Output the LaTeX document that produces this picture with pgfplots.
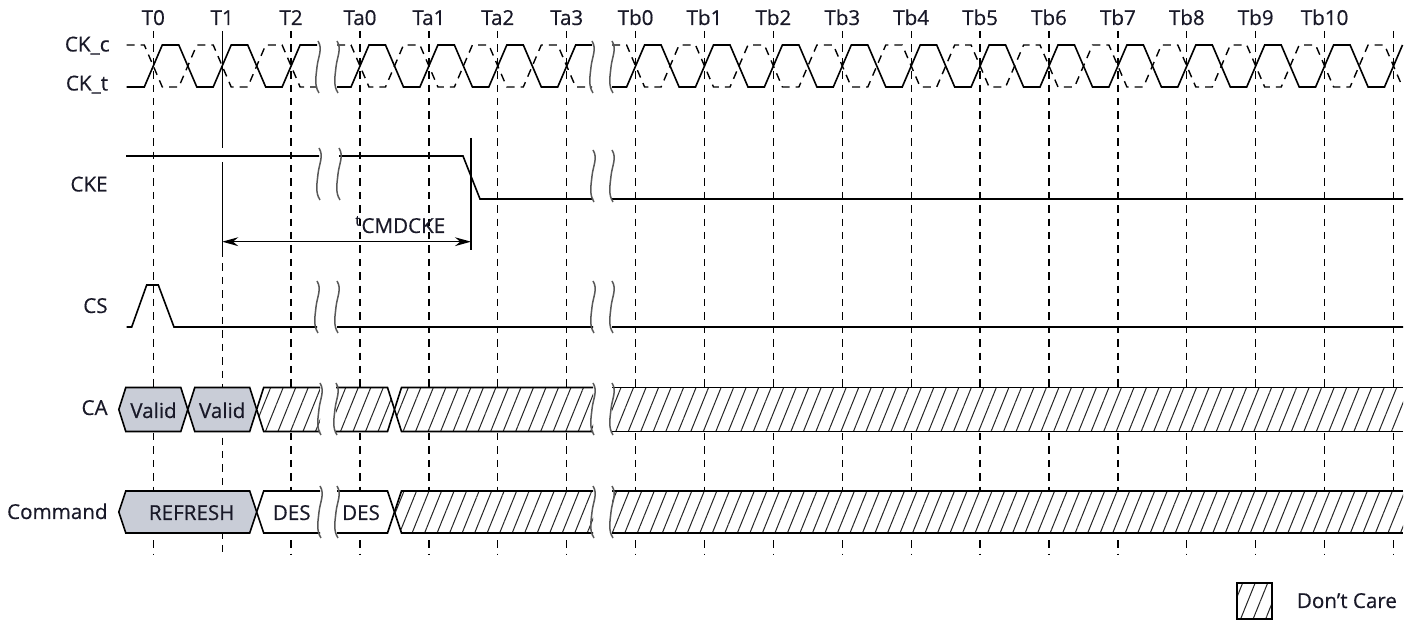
\documentclass[border=0pt]{standalone}
\usepackage{fontspec}
\setmainfont{Open Sans}[FakeBold=0.5, UprightFeatures={FakeBold=0.5}]
\usepackage{pgfplots}
\usepackage{pgfplotstable}
\pgfplotsset{compat=1.18}
\usetikzlibrary{patterns.meta,arrows.meta}
\definecolor{busgray}{RGB}{201,205,215}
\definecolor{txt}{RGB}{25,25,40}

\pgfplotstableread{
x yt yc
126.7 87 45
144.3 87 45
162.3 45 87
178.8 45 87
196.8 87 45
213.2 87 45
231.2 45 87
247.7 45 87
265.7 87 45
282.1 87 45
300.1 45 87
317 45 87
327 nan nan
337 87 45
351 87 45
369 45 87
385.5 45 87
403.5 87 45
419.9 87 45
437.9 45 87
454.4 45 87
472.4 87 45
488.8 87 45
506.8 45 87
523.3 45 87
541.3 87 45
557.7 87 45
575.7 45 87
592 45 87
600 nan nan
612 87 45
626.6 87 45
644.6 45 87
661.1 45 87
679.1 87 45
695.5 87 45
713.5 45 87
730 45 87
748 87 45
764.4 87 45
782.4 45 87
798.9 45 87
816.9 87 45
833.3 87 45
851.3 45 87
867.8 45 87
885.8 87 45
902.2 87 45
920.2 45 87
936.7 45 87
954.7 87 45
971.1 87 45
989.1 45 87
1005.6 45 87
1023.6 87 45
1040 87 45
1058 45 87
1074.5 45 87
1092.5 87 45
1108.9 87 45
1126.9 45 87
1143.4 45 87
1161.4 87 45
1177.8 87 45
1195.8 45 87
1212.3 45 87
1230.3 87 45
1246.7 87 45
1264.7 45 87
1281.2 45 87
1299.2 87 45
1315.6 87 45
1333.6 45 87
1350.1 45 87
1368.1 87 45
1384.5 87 45
1402.5 45 87
}\clocktable

\tikzset{
  sig/.style={line width=0.8pt, black},
  gridl/.style={line width=0.65pt, black, dash pattern=on 3.7pt off 3pt},
  brk/.style={line width=0.75pt, black!65},
  hatch/.style={fill=white, postaction={pattern={Lines[angle=68,distance=5.8pt,line width=0.5pt]}, pattern color=black!85}},
  lbl/.style={font=\fontsize{10.3}{12}\selectfont, text=txt, inner sep=0pt},
}
\newcommand\brkmark[2]{\draw[brk] (axis cs:#1,#2) .. controls +(2.5pt,-4pt) and +(0.5pt,5pt) .. ++(-0.5pt,-13pt) .. controls +(-0.5pt,-5pt) and +(-2.5pt,4pt) .. ++(1pt,-13pt);}
\newcommand\tlab[2]{\node[lbl, anchor=base] at (axis cs:#1,25) {#2};}

\begin{document}
\begin{tikzpicture}
\begin{axis}[x=0.5pt, y=0.5pt, y dir=reverse, xmin=0, xmax=1414, ymin=0, ymax=624,
  hide axis, clip=false, scale only axis, unbounded coords=jump, no marks]
\path (axis cs:0,0) rectangle (axis cs:1414,624);

% vertical dashed time lines
\pgfplotsinvokeforeach{153.3,291.1,360.0,428.9,497.8,566.7,635.6,704.5,773.4,842.3,911.2,980.1,1049.0,1117.9,1186.8,1255.7,1324.6,1393.5}{
  \addplot[gridl] coordinates {(#1,31) (#1,555)};
}
\addplot[gridl] coordinates {(222.2,250) (222.2,555)};
\addplot[sig, line width=0.7pt] coordinates {(222.2,31) (222.2,148)};
\addplot[sig, line width=0.7pt] coordinates {(222.2,162) (222.2,250)};
\addplot[sig, line width=0.7pt] coordinates {(471,138) (471,250)};

% clock
\addplot[sig, dash pattern=on 4pt off 3pt, line width=0.7pt] table[x=x,y=yc] {\clocktable};
\addplot[sig] table[x=x,y=yt] {\clocktable};

% CKE
\addplot[sig] coordinates {(126,156) (319,156) (329,nan) (339,156) (463,156) (480,199) (593,199) (600,nan) (612,199) (1403,199)};
% CS
\addplot[sig] coordinates {(126.7,327) (131.7,327) (146.7,285) (158.3,285) (174,327) (317,327) (327,nan) (337,327) (593,327) (600,nan) (612,327) (1403,327)};

% arrow
\addplot[line width=0.7pt, {Stealth[length=8pt,width=4.4pt]}-{Stealth[length=8pt,width=4.4pt]}] coordinates {(222.2,241.7) (471,241.7)};

% CA bus
\addplot[sig, fill=busgray] coordinates {(118.8,409.5) (125.8,387.5) (180.8,387.5) (187.8,409.5) (180.8,431.5) (125.8,431.5)} -- cycle;
\addplot[sig, fill=busgray] coordinates {(187.8,409.5) (194.8,387.5) (249.7,387.5) (256.7,409.5) (249.7,431.5) (194.8,431.5)} -- cycle;
\addplot[draw=none, hatch] coordinates {(256.7,409.5) (263.7,387.5) (320,387.5) (320,431.5) (263.7,431.5)} -- cycle;
\addplot[sig] coordinates {(320,387.5) (263.7,387.5) (256.7,409.5) (263.7,431.5) (320,431.5)};
\addplot[draw=none, hatch] coordinates {(336,387.5) (387.5,387.5) (394.5,409.5) (387.5,431.5) (336,431.5)} -- cycle;
\addplot[sig] coordinates {(336,387.5) (387.5,387.5) (394.5,409.5) (387.5,431.5) (336,431.5)};
\addplot[draw=none, hatch] coordinates {(394.5,409.5) (401.5,387.5) (593,387.5) (593,431.5) (401.5,431.5)} -- cycle;
\addplot[sig] coordinates {(593,387.5) (401.5,387.5) (394.5,409.5) (401.5,431.5) (593,431.5)};
\addplot[draw=none, hatch] coordinates {(612,387.5) (1403,387.5) (1403,431.5) (612,431.5)} -- cycle;
\addplot[sig] coordinates {(612,387.5) (1403,387.5)};
\addplot[sig] coordinates {(612,431.5) (1403,431.5)};

% Command bus
\addplot[sig, fill=busgray] coordinates {(118.8,512) (125.8,491) (249.7,491) (256.7,512) (249.7,533) (125.8,533)} -- cycle;
\addplot[sig, fill=white] coordinates {(320,491) (263.7,491) (256.7,512) (263.7,533) (320,533)};
\addplot[sig, fill=white] coordinates {(337,491) (387.5,491) (394.5,512) (387.5,533) (337,533)};
\addplot[draw=none, hatch] coordinates {(394.5,512) (401.5,491) (593,491) (593,533) (401.5,533)} -- cycle;
\addplot[sig] coordinates {(593,491) (401.5,491) (394.5,512) (401.5,533) (593,533)};
\addplot[draw=none, hatch] coordinates {(612,491) (1403,491) (1403,533) (612,533)} -- cycle;
\addplot[sig] coordinates {(612,491) (1403,491)};
\addplot[sig] coordinates {(612,533) (1403,533)};

% break marks
\brkmark{318}{41}\brkmark{337}{41}\brkmark{592}{41}\brkmark{612}{41}
\brkmark{319}{148}\brkmark{339}{148}\brkmark{593}{150}\brkmark{612}{150}
\brkmark{317}{281}\brkmark{337}{281}\brkmark{593}{281}\brkmark{612}{281}
\brkmark{320}{383}\brkmark{336}{383}\brkmark{593}{383}\brkmark{612}{383}
\brkmark{320}{486}\brkmark{337}{486}\brkmark{593}{486}\brkmark{612}{486}

% legend
\addplot[sig, line width=0.7pt, hatch] coordinates {(1237,583) (1272,583) (1272,619) (1237,619)} -- cycle;
\node[lbl, anchor=base west] at (axis cs:1296.5,608) {Don’t Care};

% texts
\tlab{153.3}{T0}\tlab{222.2}{T1}\tlab{291.1}{T2}
\tlab{360.0}{Ta0}\tlab{428.9}{Ta1}\tlab{497.8}{Ta2}\tlab{566.7}{Ta3}
\tlab{635.6}{Tb0}\tlab{704.5}{Tb1}\tlab{773.4}{Tb2}\tlab{842.3}{Tb3}
\tlab{911.2}{Tb4}\tlab{980.1}{Tb5}\tlab{1049.0}{Tb6}\tlab{1117.9}{Tb7}
\tlab{1186.8}{Tb8}\tlab{1255.7}{Tb9}\tlab{1324.6}{Tb10}
\node[lbl, anchor=base east] at (axis cs:110,51.5) {CK\_c};
\node[lbl, anchor=base east] at (axis cs:108.5,90.5) {CK\_t};
\node[lbl, anchor=base east] at (axis cs:108,191.5) {CKE};
\node[lbl, anchor=base east] at (axis cs:108,313) {CS};
\node[lbl, anchor=base east] at (axis cs:108,415) {CA};
\node[lbl, anchor=base east] at (axis cs:108,519) {Command};
\node[lbl, anchor=base] at (axis cs:153.5,418) {Valid};
\node[lbl, anchor=base] at (axis cs:222.2,418) {Valid};
\node[lbl, anchor=base] at (axis cs:191.7,520) {REFRESH};
\node[lbl, anchor=base] at (axis cs:291.7,520) {DES};
\node[lbl, anchor=base] at (axis cs:361,520) {DES};
\node[lbl, anchor=base west] at (axis cs:355,233) {\textsuperscript{t}CMDCKE};
\end{axis}
\end{tikzpicture}
\end{document}
